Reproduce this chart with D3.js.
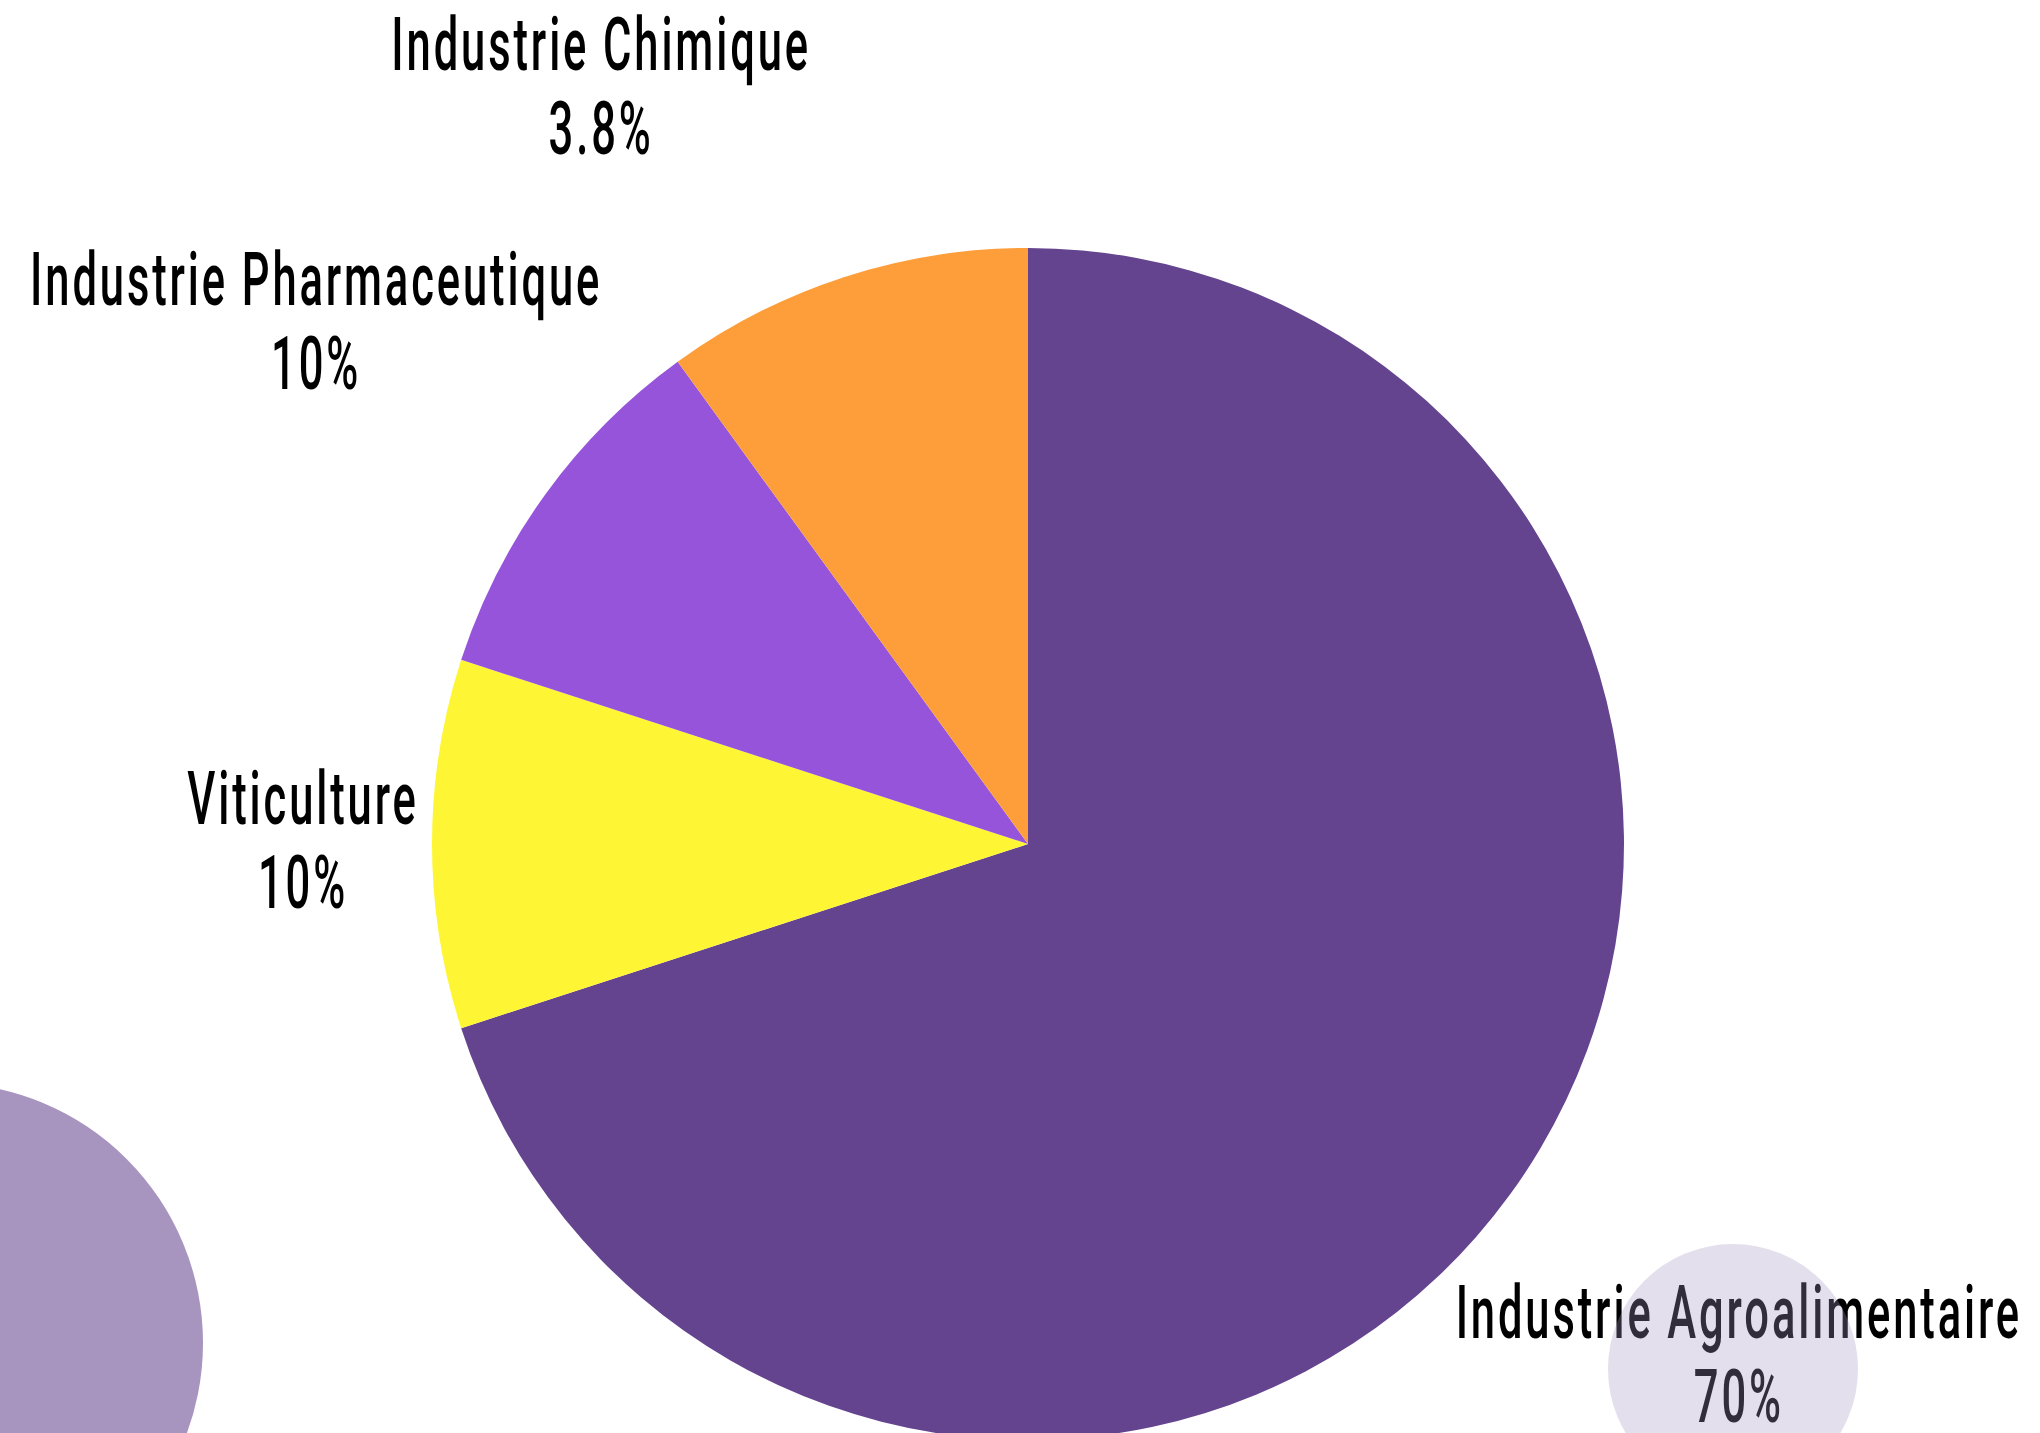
<!DOCTYPE html>
<html>
<head>
<meta charset="utf-8">
<script src="https://cdn.jsdelivr.net/npm/d3@7"></script>
<style>
  html, body { margin: 0; padding: 0; background: #ffffff; overflow: hidden; }
  .lbl { font-family: Roboto, "Noto Sans", sans-serif; font-weight: 500; fill: #000; letter-spacing: 5px; }
</style>
</head>
<body>
<div id="chart"></div>
<script>
// data
const categories = ["Industrie Agroalimentaire", "Viticulture", "Industrie Pharmaceutique", "Industrie Chimique"];
const values = [70, 10, 10, 10];
const valueLabels = ["70%", "10%", "10%", "3.8%"];
const colors = ["#65448F", "#FEF634", "#9554DA", "#FE9E3A"];

const width = 2040;
const height = 1433;
const center = { x: 1028, y: 844 };
const radius = 596;
const labelRadius = 870;
const textScaleX = 0.58;

// small nudges applied on top of the centroid placement (layout only)
const labelNudge = {
  "Industrie Agroalimentaire": [7, -1],
  "Viticulture": [145, -4],
  "Industrie Pharmaceutique": [-8, -12],
  "Industrie Chimique": [-158, 69],
};

const table = categories.map((c, i) => ({
  name: c,
  value: values[i],
  label: valueLabels[i],
  color: colors[i],
}));

const svg = d3
  .select("#chart")
  .append("svg")
  .attr("width", width)
  .attr("height", height);

const pie = d3.pie().sort(null).value((d) => d.value);
const arc = d3.arc().innerRadius(0).outerRadius(radius);
const arcs = pie(table);

const pieG = svg
  .append("g")
  .attr("transform", "translate(" + center.x + "," + center.y + ")");

pieG
  .selectAll("path")
  .data(arcs)
  .enter()
  .append("path")
  .attr("d", arc)
  .attr("fill", (d) => d.data.color);

// decorative circle bottom left
svg
  .append("circle")
  .attr("cx", -57)
  .attr("cy", 1343)
  .attr("r", 260)
  .attr("fill", "#A794BF");

// labels
const labels = pieG
  .selectAll("g.label")
  .data(arcs)
  .enter()
  .append("g")
  .attr("class", "label")
  .attr("transform", (d) => {
    const mid = (d.startAngle + d.endAngle) / 2;
    const n = labelNudge[d.data.name] || [0, 0];
    const x = Math.sin(mid) * labelRadius + n[0];
    const y = -Math.cos(mid) * labelRadius + n[1];
    return "translate(" + x + "," + y + ")";
  });

const inner = labels.append("g").attr("transform", "scale(" + textScaleX + ",1)");
inner
  .append("text")
  .attr("class", "lbl")
  .attr("text-anchor", "middle")
  .attr("y", -16)
  .style("font-size", "75px")
  .text((d) => d.data.name);
inner
  .append("text")
  .attr("class", "lbl")
  .attr("text-anchor", "middle")
  .attr("y", 68)
  .style("font-size", "75px")
  .text((d) => d.data.label);

// translucent blob drawn over the big label
svg
  .append("circle")
  .attr("cx", 1733)
  .attr("cy", 1369)
  .attr("r", 125)
  .attr("fill", "#A794BF")
  .attr("fill-opacity", 0.3);
</script>
</body>
</html>
